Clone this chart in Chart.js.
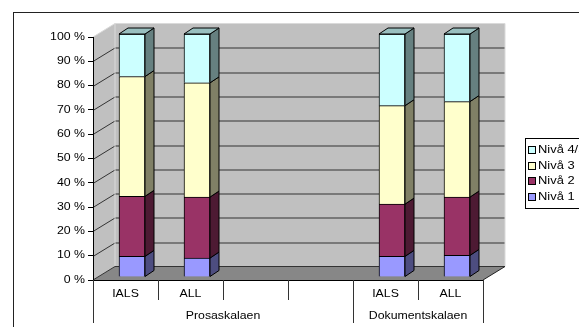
<!DOCTYPE html>
<html>
<head>
<meta charset="utf-8">
<title>Nivåfordeling</title>
<script src="https://cdn.jsdelivr.net/npm/chart.js@4.4.1/dist/chart.umd.min.js"></script>
<style>
  html, body { margin: 0; padding: 0; background: #fff; }
  canvas { display: block; }
</style>
</head>
<body>
<canvas id="chart" width="579" height="327"></canvas>
<script>
// Categories along the x axis (two empty slots separate the scales)
const categories = ['IALS', 'ALL', '', '', 'IALS', 'ALL'];
// Group labels under the categories and how many categories each covers
const groupLabels = ['Prosaskalaen', 'Dokumentskalaen'];
const groupSpans = [4, 2];

// Share of readers at each level (per cent)
const niva1  = [8.5, 7.8, null, null, 8.5, 8.9];
const niva2  = [24.7, 25.1, null, null, 21.5, 24.0];
const niva3  = [49.3, 47.0, null, null, 40.5, 39.3];
const niva45 = [17.5, 20.1, null, null, 29.5, 27.8];

const seriesLabels = ['Nivå 1', 'Nivå 2', 'Nivå 3', 'Nivå 4/5'];
const seriesColors = ['#9999FF', '#993366', '#FFFFCC', '#CCFFFF'];

// Value axis
const yMin = 0, yMax = 100, yStep = 10;
const yTickLabel = v => v + ' %';

// --- drawing helpers -------------------------------------------------------
const FONT = "10px 'Liberation Sans', Arial, sans-serif";
const LEGEND_FONT = "10.5px 'Liberation Sans', Arial, sans-serif";
const STRETCH = 1.23;              // wide-set lettering
const WALL = { x: 22, y: -13.5 };  // depth of the floor and side wall
const SHIFT = { x: 6.5, y: -3 };   // bars sit a little behind the front plane
const DEPTH = { x: 9, y: -6 };     // depth of each bar

function shade(hex, f) {
  const n = parseInt(hex.slice(1), 16);
  const r = Math.round(((n >> 16) & 255) * f);
  const g = Math.round(((n >> 8) & 255) * f);
  const b = Math.round((n & 255) * f);
  return `rgb(${r},${g},${b})`;
}

function text(ctx, str, x, y, align, font) {
  ctx.save();
  ctx.translate(x, y);
  ctx.scale(STRETCH, 1);
  ctx.font = font || FONT;
  ctx.fillStyle = '#000';
  ctx.textAlign = align;
  ctx.textBaseline = 'middle';
  ctx.fillText(str, 0, 0);
  ctx.restore();
}

function poly(ctx, pts, fill, stroke) {
  ctx.beginPath();
  ctx.moveTo(pts[0][0], pts[0][1]);
  for (let i = 1; i < pts.length; i++) ctx.lineTo(pts[i][0], pts[i][1]);
  ctx.closePath();
  if (fill) { ctx.fillStyle = fill; ctx.fill(); }
  if (stroke) { ctx.strokeStyle = stroke; ctx.lineWidth = 1; ctx.stroke(); }
}

function line(ctx, x1, y1, x2, y2, color) {
  ctx.beginPath();
  ctx.moveTo(x1, y1);
  ctx.lineTo(x2, y2);
  ctx.strokeStyle = color;
  ctx.lineWidth = 1;
  ctx.stroke();
}

// Walls, floor and gridlines of the 3D box, plus bar extrusions
const box3d = {
  id: 'box3d',
  beforeDraw(chart) {
    const { ctx, chartArea: a, scales: { y } } = chart;
    ctx.save();
    ctx.fillStyle = '#fff';
    ctx.fillRect(0, 0, chart.width, chart.height);

    // outer frame
    ctx.strokeStyle = '#222';
    ctx.lineWidth = 1;
    ctx.strokeRect(13.5, 12.5, 800, 600);

    const bx = a.left + WALL.x, br = a.right + WALL.x;
    const top = a.top + WALL.y, bot = a.bottom + WALL.y;

    // side wall and back wall
    poly(ctx, [[a.left, a.top], [bx, top], [bx, bot], [a.left, a.bottom]], '#C0C0C0');
    ctx.fillStyle = '#C0C0C0';
    ctx.fillRect(bx, top, br - bx, bot - top);

    // floor
    poly(ctx, [[a.left, a.bottom], [bx, bot], [br, bot], [a.right, a.bottom]], '#878787');

    // gridlines
    for (let v = yMin + yStep; v < yMax; v += yStep) {
      const py = Math.round(y.getPixelForValue(v)) + 0.5;
      line(ctx, a.left, py, bx, py + WALL.y, '#333');
      line(ctx, bx, py + WALL.y, br, py + WALL.y, '#333');
    }
    // wall edges
    line(ctx, a.left, a.top, bx, top, '#DADADA');
    line(ctx, bx, top, br, top, '#DADADA');
    line(ctx, bx, top, bx, bot, '#DADADA');
    line(ctx, br, top, br, bot, '#DADADA');
    // floor edges
    line(ctx, a.left, a.bottom, bx, bot, '#333');
    line(ctx, bx, bot, br, bot, '#333');
    line(ctx, br, bot, a.right, a.bottom, '#222');
    ctx.restore();
  },
  beforeDatasetsDraw(chart) {
    chart.ctx.save();
    chart.ctx.translate(SHIFT.x, SHIFT.y);
  },
  afterDatasetsDraw(chart) {
    const ctx = chart.ctx;
    const sets = chart.data.datasets;
    sets.forEach((ds, di) => {
      const meta = chart.getDatasetMeta(di);
      meta.data.forEach((el, i) => {
        if (ds.data[i] == null) return;
        const { x, y, base, width } = el.getProps(['x', 'y', 'base', 'width'], true);
        const l = x - width / 2, r = x + width / 2;
        const t = Math.min(y, base), b = Math.max(y, base);
        const c = ds.backgroundColor;
        poly(ctx, [[r, t], [r + DEPTH.x, t + DEPTH.y], [r + DEPTH.x, b + DEPTH.y], [r, b]], shade(c, 0.5), '#000');
        let topmost = true;
        for (let k = di + 1; k < sets.length; k++) if (sets[k].data[i] != null) topmost = false;
        if (topmost) {
          poly(ctx, [[l, t], [l + DEPTH.x, t + DEPTH.y], [r + DEPTH.x, t + DEPTH.y], [r, t]], shade(c, 0.75), '#000');
        }
      });
    });
    ctx.restore();
  },
  afterDraw(chart) {
    const { ctx, chartArea: a, scales: { x, y } } = chart;
    ctx.save();

    // value labels
    y.ticks.forEach((t, i) => {
      text(ctx, yTickLabel(t.value), a.left - 8, y.getPixelForTick(i), 'right');
    });

    // category table under the floor
    line(ctx, a.left, a.bottom + 0.5, a.right, a.bottom + 0.5, '#000');
    const step = (a.right - a.left) / categories.length;
    const rowY = a.bottom + 14, groupY = a.bottom + 36;
    const shortEnd = a.bottom + 20, longEnd = a.bottom + 43;
    const groupEdges = [0];
    groupSpans.reduce((s, n) => { groupEdges.push(s + n); return s + n; }, 0);
    for (let i = 0; i <= categories.length; i++) {
      const px = Math.round(a.left + i * step) + 0.5;
      const end = groupEdges.includes(i) ? longEnd : shortEnd;
      line(ctx, px, a.bottom, px, end, '#333');
    }
    categories.forEach((c, i) => {
      if (c) text(ctx, c, x.getPixelForValue(i), rowY, 'center');
    });
    groupLabels.forEach((g, gi) => {
      const c0 = groupEdges[gi], c1 = groupEdges[gi + 1];
      text(ctx, g, a.left + (c0 + c1) / 2 * step, groupY, 'center');
    });

    // legend, highest level first
    const lx = 525.5, ly = 138.5;
    ctx.strokeStyle = '#000';
    ctx.lineWidth = 1;
    ctx.strokeRect(lx, ly, 120, 70);
    const order = chart.data.datasets.map((d, i) => i).reverse();
    order.forEach((di, row) => {
      const ds = chart.data.datasets[di];
      const cy = 150 + row * 15.7;
      ctx.fillStyle = ds.backgroundColor;
      ctx.fillRect(529, Math.round(cy) - 3, 6, 6);
      ctx.strokeRect(528.5, Math.round(cy) - 3.5, 7, 7);
      text(ctx, ds.label, 538, cy, 'left', LEGEND_FONT);
    });
    ctx.restore();
  }
};

const seriesData = [niva1, niva2, niva3, niva45];

new Chart(document.getElementById('chart'), {
  type: 'bar',
  data: {
    labels: categories,
    datasets: seriesData.map((d, i) => ({
      label: seriesLabels[i],
      data: d,
      backgroundColor: seriesColors[i],
      borderColor: '#000',
      borderWidth: 1,
      barThickness: 26
    }))
  },
  options: {
    responsive: false,
    devicePixelRatio: 1,
    animation: false,
    layout: { padding: { left: 0, top: 37, right: 96, bottom: 47 } },
    plugins: { legend: { display: false }, tooltip: { enabled: false } },
    scales: {
      x: { stacked: true, display: false, offset: true },
      y: {
        stacked: true,
        min: yMin,
        max: yMax,
        ticks: { stepSize: yStep, display: false },
        grid: { drawOnChartArea: false, drawTicks: true, tickLength: 5, color: '#000' },
        border: { display: true, color: '#000' },
        afterFit(scale) { scale.width = 93; }
      }
    }
  },
  plugins: [box3d]
});
</script>
</body>
</html>
